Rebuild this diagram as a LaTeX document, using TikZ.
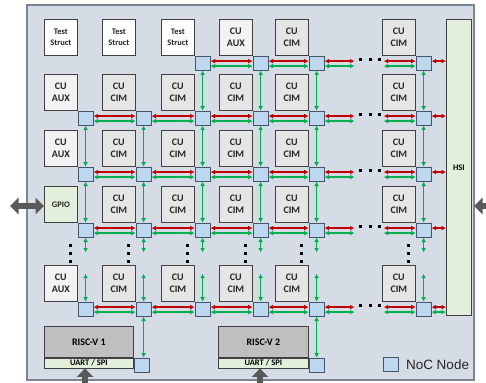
\documentclass[tikz,border=0pt]{standalone}
\usepackage{fontspec}
\setmainfont{Carlito}
\newfontfamily\legendfont{Liberation Sans}
\usetikzlibrary{arrows.meta,positioning}

\definecolor{panel}{HTML}{D6DCE5}
\definecolor{panelline}{HTML}{7A8494}
\definecolor{nocfill}{HTML}{BDD7EE}
\definecolor{nocline}{HTML}{44546A}
\definecolor{ifgreen}{HTML}{E2EFDA}
\definecolor{linkred}{HTML}{C00000}
\definecolor{linkgreen}{HTML}{00B050}
\definecolor{riscgray}{HTML}{BFBFBF}
\definecolor{fatgray}{HTML}{595959}

\tikzset{
  module/.style={draw=black!75, line width=0.7pt, minimum width=33pt, minimum height=36pt,
    inner sep=0pt, anchor=north west, align=center, text=black!85,
    font=\bfseries\fontsize{10}{12.5}\selectfont},
  cim/.style={module, fill=black!10},
  aux/.style={module, fill=black!5},
  test/.style={module, fill=white, font=\bfseries\fontsize{8.5}{10.5}\selectfont},
  gpio/.style={module, fill=ifgreen, font=\bfseries\fontsize{8.5}{10}\selectfont},
  noc/.style={draw=nocline, line width=0.8pt, fill=nocfill, minimum width=15pt,
    minimum height=14pt, inner sep=0pt, anchor=north west},
  red link/.style={draw=linkred, line width=1.6pt,
    {Latex[length=4.5pt,width=4.8pt]}-{Latex[length=4.5pt,width=4.8pt]}},
  green link/.style={red link, draw=linkgreen},
  dot/.style={fill=black, minimum size=3pt, inner sep=0pt},
  fat/.style={draw=fatgray, line width=6pt, -{Triangle[length=8.5pt,width=16pt]}},
}

\begin{document}
\begin{tikzpicture}[x=1pt, y=-1pt]
  \useasboundingbox (0,0) rectangle (486,382);
  \draw[fill=panel, draw=panelline, line width=1.5pt] (27,5) rectangle (474,380);

  % top row
  \node[test] (m01) at (44,19)  {Test\\Struct};
  \node[test] (m02) at (102,19) {Test\\Struct};
  \node[test] (m03) at (161,19) {Test\\Struct};
  \node[aux]  (m04) at (219,19) {CU\\AUX};
  \node[cim]  (m05) at (275,19) {CU\\CIM};
  \node[cim]  (m06) at (382,19) {CU\\CIM};

  % first column
  \node[aux]  (m11) at (44,74)  {CU\\AUX};
  \node[aux]  (m21) at (44,130) {CU\\AUX};
  \node[gpio] (m31) at (44,186) {GPIO};
  \node[aux]  (m41) at (44,265) {CU\\AUX};

  \foreach \c/\x in {2/102,3/161,4/219,5/275,6/382}
    \foreach \r/\y in {1/74,2/130,3/186,4/265}
      \node[cim] (m\r\c) at (\x,\y) {CU\\CIM};

  \node[draw=black!75, line width=0.7pt, fill=ifgreen, minimum width=25pt, minimum height=296pt,
    inner sep=0pt, anchor=north west, font=\bfseries\fontsize{8.5}{10}\selectfont] (hsi) at (446,19) {HSI};

  % NoC nodes
  \foreach \c in {3,...,6}
    \node[noc] (n0\c) at (m0\c.south east) {};
  \foreach \r in {1,...,4}
    \foreach \c in {1,...,6}
      \node[noc] (n\r\c) at (m\r\c.south east) {};

  % horizontal links
  \foreach \r/\cs in {0/{3/4,4/5},1/{1/2,2/3,3/4,4/5},2/{1/2,2/3,3/4,4/5},3/{1/2,2/3,3/4,4/5},4/{1/2,2/3,3/4,4/5}} {
    \foreach \c/\d in \cs {
      \draw[red link]   ([yshift=2pt]n\r\c.east)  -- ([yshift=2pt]n\r\d.west);
      \draw[green link] ([yshift=-3pt]n\r\c.east) -- ([yshift=-3pt]n\r\d.west);
    }
    \coordinate (a\r) at ([xshift=30pt]n\r5.east);
    \coordinate (b\r) at ([xshift=-32pt]n\r6.west);
    \draw[red link]   ([yshift=2pt]n\r5.east)  -- ([yshift=2pt]a\r);
    \draw[green link] ([yshift=-3pt]n\r5.east) -- ([yshift=-3pt]a\r);
    \draw[red link]   ([yshift=2pt]b\r)  -- ([yshift=2pt]n\r6.west);
    \draw[green link] ([yshift=-3pt]b\r) -- ([yshift=-3pt]n\r6.west);
    \foreach \k/\dx in {1/6,2/15.5,3/25}
      \node[dot] (hd\r\k) at ([xshift=\dx pt, yshift=4pt]a\r) {};
    \draw[red link] ([yshift=2pt]n\r6.east) -- ([yshift=2pt]n\r6.east -| hsi.west);
  }
  \draw[green link] ([yshift=-3pt]n46.east) -- ([yshift=-3pt]n46.east -| hsi.west);

  % vertical links
  \foreach \c in {3,...,6}
    \draw[green link] (n0\c.south) -- (n1\c.north);
  \foreach \r/\s in {1/2,2/3}
    \foreach \c in {1,...,6}
      \draw[green link] (n\r\c.south) -- (n\s\c.north);
  \foreach \c in {1,...,6} {
    \coordinate (dn\c) at ([yshift=-15pt]n3\c.south);
    \coordinate (up\c) at ([yshift=28pt]n4\c.north);
    \draw[green link] (n3\c.south) -- (dn\c);
    \draw[green link] (up\c) -- (n4\c.north);
    \foreach \k/\dy in {1/20,2/12,3/3.6}
      \node[dot] (vd\c\k) at ([xshift=-7pt, yshift=\dy pt]m4\c.north east) {};
  }

  % RISC-V cores
  \node[draw=black!75, line width=0.7pt, fill=riscgray, minimum width=89pt, minimum height=31pt,
    inner sep=0pt, anchor=north west, font=\bfseries\fontsize{10}{12}\selectfont] (risc1) at (44,326) {RISC-V 1};
  \node[draw=black!75, line width=0.7pt, fill=ifgreen, minimum width=89pt, minimum height=10pt,
    inner sep=0pt, anchor=north west, font=\bfseries\fontsize{8.5}{10}\selectfont] (uart1) at (risc1.south west) {UART / SPI};
  \node[noc] (nr1) at (uart1.north east) {};
  \node[draw=black!75, line width=0.7pt, fill=riscgray, minimum width=90pt, minimum height=31pt,
    inner sep=0pt, anchor=north west, font=\bfseries\fontsize{10}{12}\selectfont] (risc2) at (218,326) {RISC-V 2};
  \node[draw=black!75, line width=0.7pt, fill=ifgreen, minimum width=90pt, minimum height=10pt,
    inner sep=0pt, anchor=north west, font=\bfseries\fontsize{8.5}{10}\selectfont] (uart2) at (risc2.south west) {UART / SPI};
  \node[noc] (nr2) at (uart2.north east) {};
  \draw[green link] (n42.south) -- (n42.south |- nr1.north);
  \draw[green link] (n45.south) -- (n45.south |- nr2.north);

  % external ports
  \coordinate (gpioport) at (10,206);
  \coordinate (gpioin) at (44,206);
  \draw[fat, {Triangle[length=8.5pt,width=16pt]}-{Triangle[length=8.5pt,width=16pt]}] (gpioport) -- (gpioin);
  \coordinate (hsiport) at (494,206);
  \coordinate (hsiin) at (474,206);
  \draw[fat] (hsiport) -- (hsiin);
  \coordinate (rport1) at (85,386);
  \coordinate (rport2) at (260,386);
  \draw[fat] (rport1) -- (rport1 |- uart1.south);
  \draw[fat] (rport2) -- (rport2 |- uart2.south);

  % legend
  \node[noc] (legnoc) at (383,357) {};
  \node[right=7pt of legnoc, inner sep=0pt, text=black!85,
    font=\legendfont\fontsize{13.5}{15}\selectfont] (legtext) {NoC Node};
\end{tikzpicture}
\end{document}
